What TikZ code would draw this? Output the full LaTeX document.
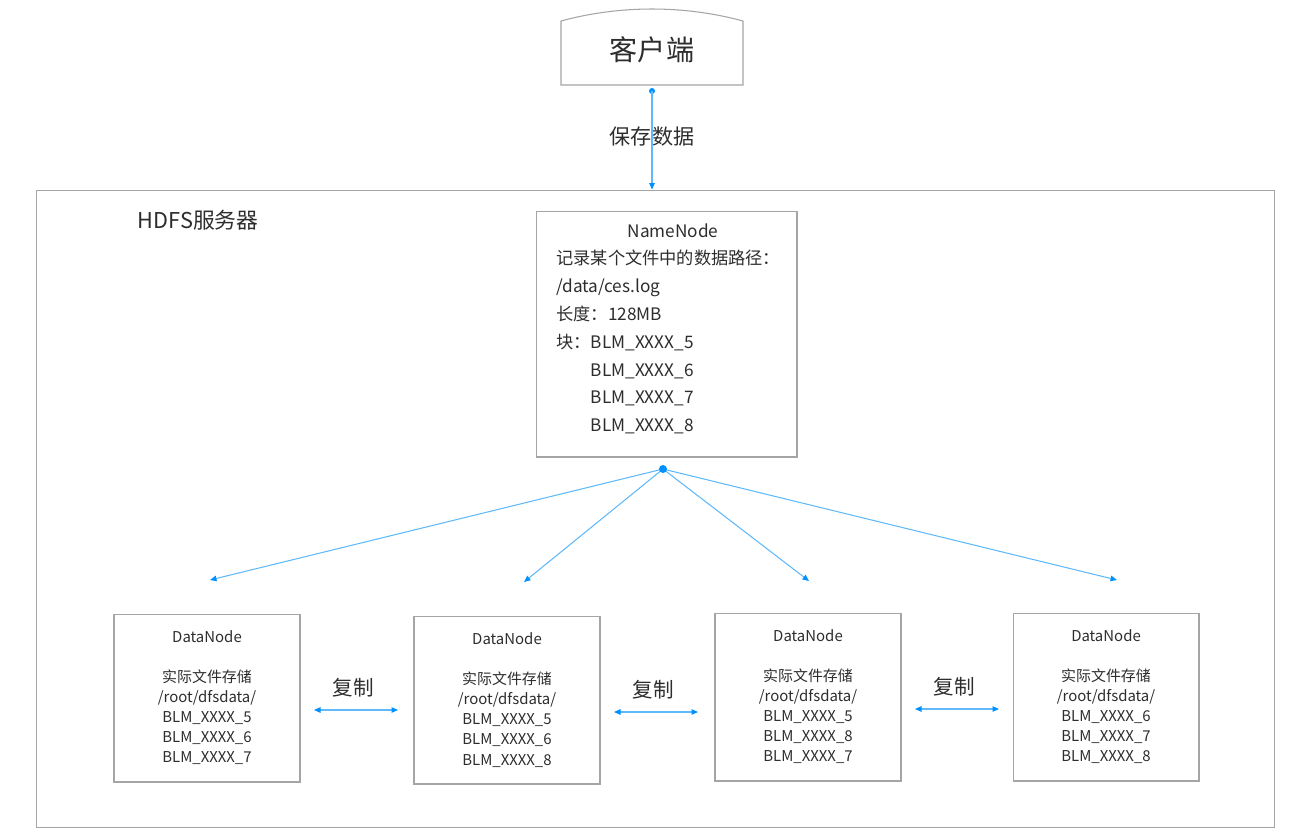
\documentclass[tikz,border=0pt]{standalone}
\usepackage{fontspec}
\setmainfont{Noto Sans CJK SC}
\usetikzlibrary{arrows.meta}
\usetikzlibrary{positioning}

\definecolor{boxgray}{RGB}{165,165,165}
\definecolor{linkblue}{RGB}{95,185,250}
\definecolor{dotblue}{RGB}{0,145,255}
\definecolor{textgray}{RGB}{45,45,45}

\begin{document}
\begin{tikzpicture}
[
	x								= 0.02cm,
	y								= -0.02cm,
	every node/.append style		= {text = textgray},
	%
	% boxes | data nodes | links
	box/.style						=
	{
		draw						= boxgray,
		line width					= 0.6pt,
		inner sep					= 0pt,
	},
	datanode/.style					=
	{
		box,
		minimum width				= 3.72cm,
		minimum height				= 3.36cm,
		align						= center,
		font						= \fontsize{8.5}{11.4}\selectfont,
	},
	link/.style						=
	{
		draw						= linkblue,
		line width					= 0.6pt,
		-{Triangle[length=1.3mm,width=1.1mm,color=dotblue]},
	},
	copylink/.style					=
	{
		link,
		{Triangle[length=1.3mm,width=1.1mm,color=dotblue]}-{Triangle[length=1.3mm,width=1.1mm,color=dotblue]},
	},
	copytext/.style					= {font = \fontsize{11.7}{14}\selectfont},
]
	\useasboundingbox (0,0) rectangle (1302,836);

	% client
	\draw [box] (561,85) -- (561,21) .. controls (620,5) and (684,5) .. (743,21) -- (743,85) -- cycle;
	\node (client) at (652,50) {\fontsize{16}{19}\selectfont 客户端};
	\coordinate (clientdot) at (652,91);

	% server
	\node (hdfs) [box, minimum width = 24.78cm, minimum height = 12.76cm] at (655.5,509) {};
	\node (hdfslabel) at (198,220) {\fontsize{12.4}{15}\selectfont HDFS服务器};

	\fill [dotblue] (clientdot) circle (0.06cm);
	\draw [link] (clientdot) -- (hdfs.north -| clientdot);
	\node (save) at (652,137) {\fontsize{12}{14}\selectfont 保存数据};

	% name node
	\node (namenode) [box, minimum width = 5.22cm, minimum height = 4.92cm] at (666.5,334) {};
	\node (nntitle) at (673,231) {\fontsize{9.8}{15.9}\selectfont NameNode};
	\node (nntext) [anchor = west, align = left, inner sep = 0pt, font = \fontsize{9.8}{15.9}\selectfont] at (556,342)
	{
		记录某个文件中的数据路径：\\
		/data/ces.log\\
		长度：128MB\\
		块：BLM\_XXXX\_5\\
		\phantom{块：}BLM\_XXXX\_6\\
		\phantom{块：}BLM\_XXXX\_7\\
		\phantom{块：}BLM\_XXXX\_8
	};
	\coordinate (nndot) at (663,469);

	% data nodes
	\node (dn1) [datanode] at (207,698) {DataNode\\[11.4pt]实际文件存储\\/root/dfsdata/\\BLM\_XXXX\_5\\BLM\_XXXX\_6\\BLM\_XXXX\_7};
	\node (dn2) [datanode] at (507,700) {DataNode\\[11.4pt]实际文件存储\\/root/dfsdata/\\BLM\_XXXX\_5\\BLM\_XXXX\_6\\BLM\_XXXX\_8};
	\node (dn3) [datanode] at (808,697) {DataNode\\[11.4pt]实际文件存储\\/root/dfsdata/\\BLM\_XXXX\_5\\BLM\_XXXX\_8\\BLM\_XXXX\_7};
	\node (dn4) [datanode] at (1106,697) {DataNode\\[11.4pt]实际文件存储\\/root/dfsdata/\\BLM\_XXXX\_6\\BLM\_XXXX\_7\\BLM\_XXXX\_8};

	\coordinate (to1) at (210,580);
	\coordinate (to2) at (524,582);
	\coordinate (to3) at (809,581);
	\coordinate (to4) at (1117,580);
	\foreach \t in {to1,to2,to3,to4}
		\draw [link] (nndot) -- (\t);
	\fill [dotblue] (nndot) circle (0.08cm);

	% copies
	\coordinate (c1a) at (314,710);
	\coordinate (c1b) at (398,710);
	\coordinate (c2a) at (614,712);
	\coordinate (c2b) at (698,712);
	\coordinate (c3a) at (915,709);
	\coordinate (c3b) at (999,709);
	\draw [copylink] (c1a) -- (c1b);
	\draw [copylink] (c2a) -- (c2b);
	\draw [copylink] (c3a) -- (c3b);
	\node (copy1) [copytext] at (353,688) {复制};
	\node (copy2) [copytext] at (653,690) {复制};
	\node (copy3) [copytext] at (954,687) {复制};

\end{tikzpicture}
\end{document}
